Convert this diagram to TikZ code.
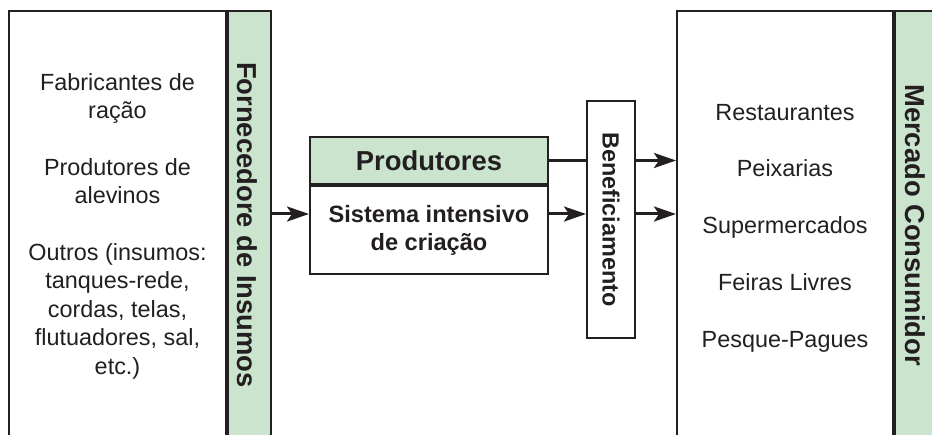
\documentclass[tikz,border=0pt]{standalone}
\usepackage{fontspec}
\setmainfont{Liberation Sans}
\usetikzlibrary{
    arrows.meta,  % For arrow tips
    positioning   % For relative placement
}
\definecolor{ink}{HTML}{231F20}
\definecolor{stripgreen}{HTML}{CAE4CE}

\begin{document}
\begin{tikzpicture}[
    x=0.5pt, y=0.5pt,
    box/.style={draw=ink, line width=1pt, inner sep=0pt, text=ink}, % Base style for boxes
    strip/.style={box, fill=stripgreen},                             % Green side strips
    flow/.style={draw=ink, line width=1.5pt,
        -{Stealth[length=11pt, width=7.5pt, inset=2.5pt]}},          % Arrows
    listtext/.style={text=ink, align=center,
        font=\fontsize{11.7}{14.2}\selectfont},                      % Lists in the boxes
    striptitle/.style={text=ink, rotate=-90,
        font=\bfseries\fontsize{13.7}{16}\selectfont}                % Titles on the strips
]

    % Page size and clipping (boxes run off the bottom)
    \useasboundingbox (0,0) rectangle (932,434);
    \clip (0,0) rectangle (932,434);

    % Row of the lower arrows
    \coordinate (lowrow) at (0, 220);

    % Suppliers (left)
    \node[box, minimum width=108.5pt, minimum height=224.5pt] (fornbox) at (117.5, 198.5) {};
    \node[strip, minimum width=21.5pt, minimum height=224.5pt, right=0pt of fornbox] (fornstrip) {};
    \node[striptitle] (forntitle) at (247.5, 209) {Fornecedore de Insumos};
    \node[listtext] (fornlist) at (117.5, 208) {Fabricantes de\\ração\\[14.2pt]
        Produtores de\\alevinos\\[14.2pt]
        Outros (insumos:\\tanques-rede,\\cordas, telas,\\flutuadores, sal,\\etc.)};

    % Producers (middle)
    \node[strip, minimum width=119pt, minimum height=23.5pt,
        font=\bfseries\fontsize{13.7}{16}\selectfont] (prodhead) at (429, 273.5) {Produtores};
    \node[box, minimum width=119pt, minimum height=44pt, align=center,
        font=\bfseries\fontsize{11.8}{14}\selectfont, below=0pt of prodhead] (prodbody)
        {Sistema intensivo\\de criação};

    % Processing (rotated: south is its left side, north its right side)
    \node[box, rotate=-90, minimum width=118.5pt, minimum height=24pt,
        font=\bfseries\fontsize{11.7}{14}\selectfont] (benef) at (611, 214.5) {Beneficiamento};

    % Consumer market (right)
    \node[box, minimum width=108pt, minimum height=224.5pt] (mercbox) at (785, 198.5) {};
    \node[strip, minimum width=22pt, minimum height=224.5pt, right=0pt of mercbox] (mercstrip) {};
    \node[striptitle] (merctitle) at (915, 209) {Mercado Consumidor};
    \node[listtext] (merclist) at (785, 206) {Restaurantes\\[14.2pt]Peixarias\\[14.2pt]
        Supermercados\\[14.2pt]Feiras Livres\\[14.2pt]Pesque-Pagues};

    % Connectors
    \draw[flow] (fornstrip.east |- lowrow) -- (prodbody.west |- lowrow);
    \draw[draw=ink, line width=1.5pt] (prodhead.east) -- (benef.south |- prodhead.east);
    \draw[flow] (prodbody.east |- lowrow) -- (benef.south |- lowrow);
    \draw[flow] (benef.north |- prodhead.east) -- (mercbox.west |- prodhead.east);
    \draw[flow] (benef.north |- lowrow) -- (mercbox.west |- lowrow);

\end{tikzpicture}
\end{document}
